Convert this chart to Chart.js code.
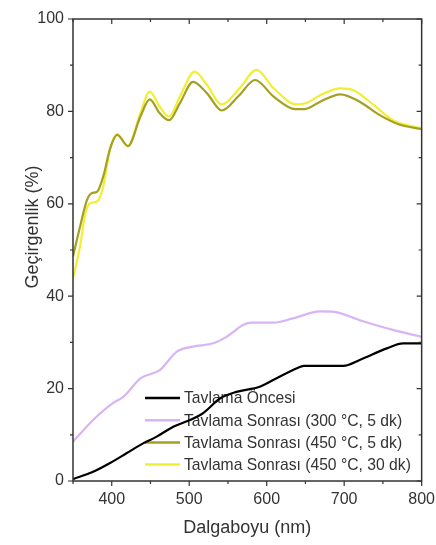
<!DOCTYPE html>
<html>
<head>
<meta charset="utf-8">
<script src="https://cdn.jsdelivr.net/npm/chart.js@4.4.0/dist/chart.umd.min.js"></script>
<style>
  html, body { margin: 0; padding: 0; background: #fff; }
  #wrap { width: 436px; height: 545px; }
</style>
</head>
<body>
<div id="wrap"><canvas id="chart"></canvas></div>
<script>
// Series labels
const seriesLabels = [
    "Tavlama Öncesi",
    "Tavlama Sonrası (300 °C, 5 dk)",
    "Tavlama Sonrası (450 °C, 5 dk)",
    "Tavlama Sonrası (450 °C, 30 dk)"
];

// Tavlama Öncesi
const wlBefore = [350, 376, 401, 419, 441, 458, 480, 501, 518, 540, 561, 591, 609, 639, 648, 699, 720, 755, 776, 800];
const tBefore = [0.4, 2.0, 4.2, 6.0, 8.2, 9.6, 11.8, 13.2, 14.7, 17.9, 19.3, 20.4, 21.9, 24.4, 24.9, 24.9, 26.2, 28.7, 29.8, 29.8];

// 300 °C, 5 dk
const wl300 = [350, 376, 401, 415, 437, 462, 484, 505, 531, 548, 570, 580, 609, 634, 669, 687, 720, 763, 800];
const t300 = [8.5, 13.2, 16.8, 18.2, 22.2, 24.0, 28.0, 29.1, 29.8, 31.2, 33.8, 34.3, 34.3, 35.2, 36.7, 36.6, 34.8, 32.7, 31.2];

// 450 °C, 5 dk
const wl450a = [350, 359, 368, 374, 381, 389, 398, 407, 421, 437, 449, 462, 474, 488, 505, 523, 542, 564, 585, 609, 637, 649, 669, 695, 720, 746, 772, 800];
const t450a = [48.6, 55.0, 60.8, 62.3, 62.6, 65.9, 72.0, 74.9, 72.5, 78.9, 82.6, 79.6, 78.1, 81.8, 86.4, 83.9, 80.2, 83.4, 86.8, 83.2, 80.5, 80.5, 82.1, 83.7, 82.1, 79.2, 77.1, 76.2];

// 450 °C, 30 dk
const wl450b = [350, 359, 366, 372, 381, 389, 398, 407, 421, 437, 449, 462, 474, 488, 507, 523, 542, 565, 587, 609, 639, 651, 669, 695, 712, 738, 763, 800];
const t450b = [43.9, 50.7, 57.9, 60.1, 60.5, 63.7, 72.0, 75.1, 72.5, 79.6, 84.3, 81.0, 78.9, 83.2, 88.6, 85.7, 81.5, 85.0, 89.0, 85.0, 81.5, 81.8, 83.5, 85.0, 84.6, 81.4, 78.1, 76.3];

const seriesColors = ["#000000", "#d9b4f4", "#a3a022", "#f2ee32"];

const xTickValues = [400, 500, 600, 700, 800];
const yTickValues = [0, 20, 40, 60, 80, 100];

function pts(xs, ys) {
    return xs.map(function (x, i) { return { x: x, y: ys[i] }; });
}

const axisColor = "#333333";
const fontFamily = "'Liberation Sans', Arial, sans-serif";

// frame and tick marks like the original plot
const framePlugin = {
    id: "frame",
    afterDraw: function (chart) {
        const ctx = chart.ctx;
        const a = chart.chartArea;
        const xs = chart.scales.x;
        const ys = chart.scales.y;
        ctx.save();
        ctx.strokeStyle = axisColor;
        ctx.lineWidth = 1.5;
        ctx.strokeRect(a.left, a.top, a.right - a.left, a.bottom - a.top);
        ctx.lineWidth = 1.2;
        ctx.beginPath();
        for (let v = 350; v <= 800; v += 50) {
            const px = xs.getPixelForValue(v);
            const len = v % 100 === 0 ? 5 : 3;
            ctx.moveTo(px, a.bottom); ctx.lineTo(px, a.bottom + len);
            ctx.moveTo(px, a.top); ctx.lineTo(px, a.top + len);
        }
        for (let v = 0; v <= 100; v += 10) {
            const py = ys.getPixelForValue(v);
            const len = v % 20 === 0 ? 5 : 3;
            ctx.moveTo(a.left, py); ctx.lineTo(a.left - len, py);
            ctx.moveTo(a.right, py); ctx.lineTo(a.right - len, py);
        }
        ctx.stroke();

        // y title
        ctx.fillStyle = axisColor;
        ctx.font = "18px " + fontFamily;
        ctx.textAlign = "center";
        ctx.textBaseline = "middle";
        ctx.translate(33, 227);
        ctx.rotate(-Math.PI / 2);
        ctx.fillText("Geçirgenlik (%)", 0, 0);
        ctx.restore();
    }
};

// legend inside the plot, drawn under the curves
const legendPlugin = {
    id: "innerLegend",
    beforeDatasetsDraw: function (chart) {
        const ctx = chart.ctx;
        const a = chart.chartArea;
        const x0 = a.left + 72;
        const y0 = a.bottom - 83;
        ctx.save();
        ctx.font = "15.7px " + fontFamily;
        ctx.textBaseline = "middle";
        ctx.textAlign = "left";
        seriesLabels.forEach(function (label, i) {
            const y = y0 + i * 22.2;
            ctx.strokeStyle = seriesColors[i];
            ctx.lineWidth = 2.5;
            ctx.beginPath();
            ctx.moveTo(x0, y);
            ctx.lineTo(x0 + 35, y);
            ctx.stroke();
            ctx.fillStyle = axisColor;
            ctx.fillText(label, x0 + 39, y + 1);
        });
        ctx.restore();
    }
};

const datasetsData = [pts(wlBefore, tBefore), pts(wl300, t300), pts(wl450a, t450a), pts(wl450b, t450b)];

new Chart(document.getElementById("chart").getContext("2d"), {
    type: "line",
    data: {
        datasets: datasetsData.map(function (d, i) {
            return {
                label: seriesLabels[i],
                data: d,
                borderColor: seriesColors[i],
                borderWidth: 2.2,
                pointRadius: 0,
                cubicInterpolationMode: "monotone",
                fill: false
            };
        })
    },
    options: {
        responsive: true,
        maintainAspectRatio: false,
        animation: false,
        layout: { padding: { top: 19, right: 5, left: 0, bottom: 0 } },
        plugins: {
            legend: { display: false },
            tooltip: { enabled: false }
        },
        scales: {
            x: {
                type: "linear",
                min: 350,
                max: 800,
                afterBuildTicks: function (axis) {
                    axis.ticks = xTickValues.map(function (v) { return { value: v }; });
                },
                afterFit: function (axis) { axis.height = 64; },
                grid: { display: false },
                border: { display: false },
                ticks: {
                    autoSkip: false,
                    maxRotation: 0,
                    padding: 1,
                    color: axisColor,
                    font: { size: 16, family: fontFamily }
                },
                title: {
                    display: true,
                    text: "Dalgaboyu (nm)",
                    color: axisColor,
                    font: { size: 18, family: fontFamily },
                    padding: { top: 8, bottom: 6 }
                }
            },
            y: {
                type: "linear",
                min: 0,
                max: 100,
                afterBuildTicks: function (axis) {
                    axis.ticks = yTickValues.map(function (v) { return { value: v }; });
                },
                afterFit: function (axis) { axis.width = 73; },
                grid: { display: false },
                border: { display: false },
                ticks: {
                    autoSkip: false,
                    padding: 1,
                    color: axisColor,
                    font: { size: 16, family: fontFamily }
                }
            }
        }
    },
    plugins: [legendPlugin, framePlugin]
});
</script>
</body>
</html>
